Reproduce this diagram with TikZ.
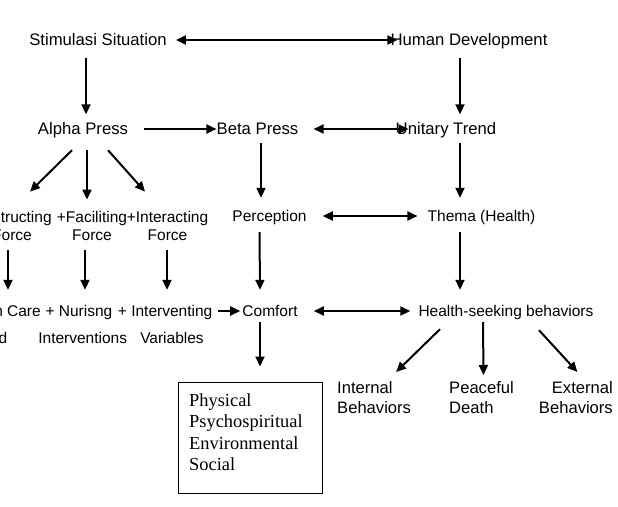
\documentclass[tikz,border=0pt]{standalone}
\usepackage{fontspec}
\setmainfont{Liberation Serif}
\setsansfont{Liberation Sans}
\usetikzlibrary{arrows.meta,positioning}

\begin{document}
\begin{tikzpicture}[
    x=1pt, y=-1pt,
    font=\sffamily\fontsize{15.5}{18}\selectfont,
    >={Triangle[length=10pt,width=9pt]},
    term/.style={
        inner sep=0pt, text height=13.5pt, text depth=3.5pt
    },
    topTerm/.style={
        term, font=\sffamily\fontsize{16.7}{18}\selectfont
    },
    force/.style={
        inner sep=0pt, align=center,
        font=\sffamily\fontsize{15.5}{18}\selectfont
    },
    outcome/.style={
        inner sep=0pt,
        font=\sffamily\fontsize{16.6}{20}\selectfont
    },
    dimBox/.style={
        draw, line width=1pt,
        minimum width=144pt, minimum height=111pt
    },
    dimText/.style={
        inner sep=0pt, align=left,
        font=\rmfamily\fontsize{18.4}{21.3}\selectfont
    },
    flow/.style={->, line width=2pt},
    both/.style={<->, line width=2pt}
]
\useasboundingbox (0,0) rectangle (618,506);
\clip (0,0) rectangle (618,506);

% Layout plan: left column feeds comfort, right column feeds health-seeking behaviors.
\node[topTerm] (Stimulus) at (98,40) {Stimulasi Situation};
\node[topTerm] (HumanDev) at (469,40) {Human Development};

\node[topTerm] (Alpha) at (83,129) {Alpha Press};
\node[topTerm] (Beta) at (257.5,129) {Beta Press};
\node[topTerm] (Unitary) at (446,129) {Unitary Trend};

\node[force] (Obstruct) at (12,226) {Obstructing\\Force};
\node[force] (Facilit) at (92,226) {+Faciliting\\Force};
\node[force] (Interact) at (167.5,226) {+Interacting\\Force};
\node[term] (Perception) at (269.5,216) {Perception};
\node[term] (Thema) at (481.5,216) {Thema (Health)};

\node[term, anchor=east] (Care) at (41,311) {Health Care};
\node[term, anchor=east] (Nursing) at (112.5,311) {+ Nurisng};
\node[term, anchor=east] (Intervening) at (212.5,311) {+ Interventing};
\node[term] (Comfort) at (270,311) {Comfort};
\node[term] (HealthSeek) at (506,311) {Health-seeking behaviors};

\node[term, anchor=east] (Need) at (7.5,338) {Need};
\node[term] (Interventions) at (82.7,338) {Interventions};
\node[term] (Variables) at (172,338) {Variables};

\node[dimBox] (Dims) at (250,437.5) {};
\node[dimText, anchor=north west] (DimsText) at (189,393.5)
  {Physical\\Psychospiritual\\Environmental\\Social};

\node[outcome, anchor=north west, align=left] (Internal) at (337,381) {Internal\\Behaviors};
\node[outcome, anchor=north west, align=left] (Peaceful) at (449,381) {Peaceful\\Death};
\node[outcome, anchor=north east, align=right] (External) at (613,381) {External\\Behaviors};

% horizontal links
\draw[both] ([xshift=9pt]Stimulus.east) -- ([xshift=7pt]HumanDev.west);
\draw[flow] ([xshift=16pt]Alpha.east) -- (Beta.west);
\draw[both] ([xshift=15pt]Beta.east) -- ([xshift=13pt]Unitary.west);
\draw[both] ([xshift=16pt]Perception.east) -- ([xshift=-10pt]Thema.west);
\draw[flow] ([xshift=5.5pt]Intervening.east) -- ([xshift=-2pt]Comfort.west);
\draw[both] ([xshift=16pt]Comfort.east) -- ([xshift=-8pt]HealthSeek.west);

% vertical links
\draw[flow] ([xshift=-12pt,yshift=-9pt]Stimulus.south) -- ([xshift=3pt,yshift=6pt]Alpha.north);
\draw[flow] ([xshift=-9pt,yshift=-9pt]HumanDev.south) -- ([xshift=14pt,yshift=6pt]Unitary.north);
\draw[flow] ([xshift=3.5pt,yshift=-5.5pt]Beta.south) -- ([xshift=-8.5pt,yshift=9.5pt]Perception.north);
\draw[flow] ([xshift=14pt,yshift=-5.5pt]Unitary.south) -- ([xshift=-21.5pt,yshift=9.5pt]Thema.north);
\draw[flow] ([xshift=-10pt,yshift=-7.5pt]Perception.south) -- ([xshift=-10pt,yshift=12.5pt]Comfort.north);
\draw[flow] ([xshift=-21.5pt,yshift=-7.5pt]Thema.south) -- ([xshift=-46pt,yshift=12.5pt]HealthSeek.north);
\draw[flow] ([xshift=-10pt,yshift=-2.5pt]Comfort.south) -- ([xshift=10pt,yshift=15pt]Dims.north);

% alpha press forces
\draw[flow] ([xshift=-11pt,yshift=-12.5pt]Alpha.south) -- ([xshift=18pt,yshift=19.5pt]Obstruct.north);
\draw[flow] ([xshift=4pt,yshift=-12.5pt]Alpha.south) -- ([xshift=-5pt,yshift=11.5pt]Facilit.north);
\draw[flow] ([xshift=25pt,yshift=-12.5pt]Alpha.south) -- ([xshift=-22.5pt,yshift=19.5pt]Interact.north);
\draw[flow] ([xshift=-4pt,yshift=-9.5pt]Obstruct.south) -- ([xshift=-4pt,yshift=12.5pt]Obstruct.south |- Care.north);
\draw[flow] ([xshift=-7pt,yshift=-9.5pt]Facilit.south) -- ([xshift=-7pt,yshift=12.5pt]Facilit.south |- Nursing.north);
\draw[flow] ([xshift=-0.5pt,yshift=-9.5pt]Interact.south) -- ([xshift=-0.5pt,yshift=12.5pt]Interact.south |- Intervening.north);

% behaviors
\draw[flow] ([xshift=-66pt,yshift=-9.5pt]HealthSeek.south) -- ([xshift=22pt,yshift=9pt]Internal.north);
\draw[flow] ([xshift=-23pt,yshift=-2.5pt]HealthSeek.south) -- ([xshift=2pt,yshift=6pt]Peaceful.north);
\draw[flow] ([xshift=33pt,yshift=-10.5pt]HealthSeek.south) -- ([xshift=1.5pt,yshift=9pt]External.north);

\end{tikzpicture}
\end{document}
